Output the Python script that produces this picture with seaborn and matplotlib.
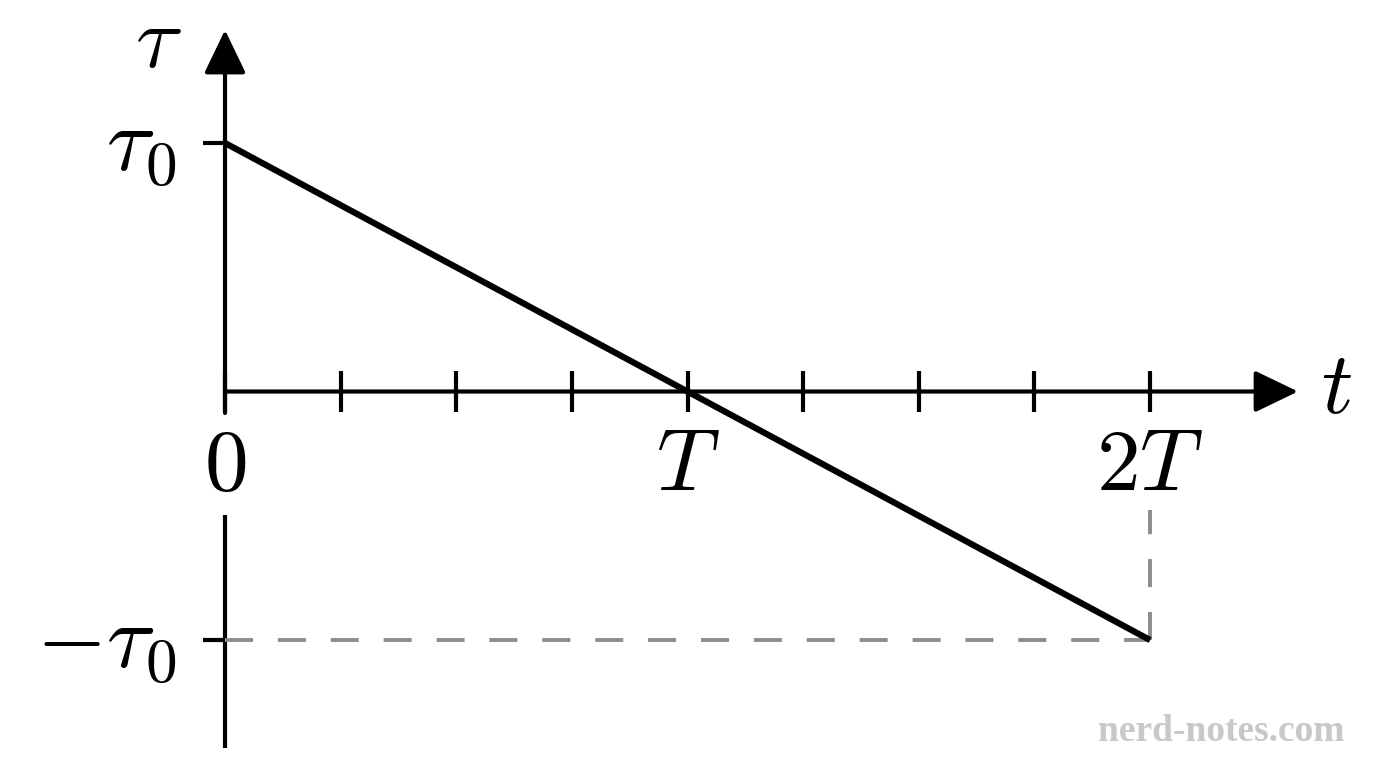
import numpy as np
import pandas as pd
import seaborn as sns
import matplotlib
matplotlib.use("Agg")
import matplotlib.pyplot as plt

# data (t in units of T, tau in units of tau0)
t_vals = [0, 2]
tau_vals = [1, -1]
tick_t = [0, 0.25, 0.5, 0.75, 1, 1.25, 1.5, 1.75, 2]
tick_labels_t = [(0, r"$0$"), (1, r"$T$"), (2, r"$2T$")]
tick_labels_tau = [(1, r"$\tau_0$"), (-1, r"$-\tau_0$")]

sns.set_style("white")
plt.rcParams["mathtext.fontset"] = "cm"
plt.rcParams["font.family"] = ["DejaVu Serif"]
plt.rcParams["text.color"] = "black"

fig = plt.figure(figsize=(13.76, 7.68), dpi=100)
ax = fig.add_axes([0, 0, 1, 1])
ax.set_xlim(-0.4865, 2.4886)
ax.set_ylim(-1.515, 1.5755)
ax.axis("off")

axis_lw = 3.0
arrow = dict(arrowstyle="-|>,head_length=1.35,head_width=0.65",
             lw=axis_lw, color="black", mutation_scale=20,
             shrinkA=0, shrinkB=0)
# horizontal axis with arrow
ax.annotate("", xy=(2.32, 0), xytext=(0, 0), arrowprops=arrow)
# vertical axis, upper part with arrow
ax.annotate("", xy=(0, 1.4547), xytext=(0, -0.0865), arrowprops=arrow)
# vertical axis, lower part (gap for the 0 label)
ax.plot([0, 0], [-0.497, -1.4346], color="black", lw=axis_lw, solid_capstyle="butt")

# x ticks
for tt in tick_t:
    ax.plot([tt, tt], [-0.083, 0.083], color="black", lw=axis_lw, solid_capstyle="butt")
# y ticks
for yv, lab in tick_labels_tau:
    ax.plot([-0.048, 0], [yv, yv], color="black", lw=axis_lw, solid_capstyle="butt")

# dashed guides
ax.plot([0, 2], [-1, -1], color="#8c8c8c", lw=2.8, dashes=(7.2, 6.4))
ax.plot([2, 2], [-1, -0.475], color="#8c8c8c", lw=2.8, dashes=(7.2, 6.4))

# main line
df = pd.DataFrame({"t": t_vals, "tau": tau_vals})
sns.lineplot(data=df, x="t", y="tau", ax=ax, color="black", lw=4.5,
             solid_capstyle="butt")

fs = 63
for xv, lab in tick_labels_t:
    ax.text(xv, -0.127, lab, ha="center", va="top", fontsize=fs, color="black")
for yv, lab in tick_labels_tau:
    ax.text(-0.104, yv - 0.008, lab, ha="right", va="center", fontsize=fs + 2,
            color="black")

ax.text(-0.145, 1.405, r"$\tau$", ha="center", va="center", fontsize=fs, color="black")
ax.text(2.402, 0.014, r"$t$", ha="center", va="center", fontsize=fs, color="black")

fig.text(0.8875, 0.047, "nerd-notes.com", ha="center", va="center",
         fontsize=27, color="#c8c8c8", family="Liberation Serif", weight="bold")

fig.savefig("out.png", dpi=100)
